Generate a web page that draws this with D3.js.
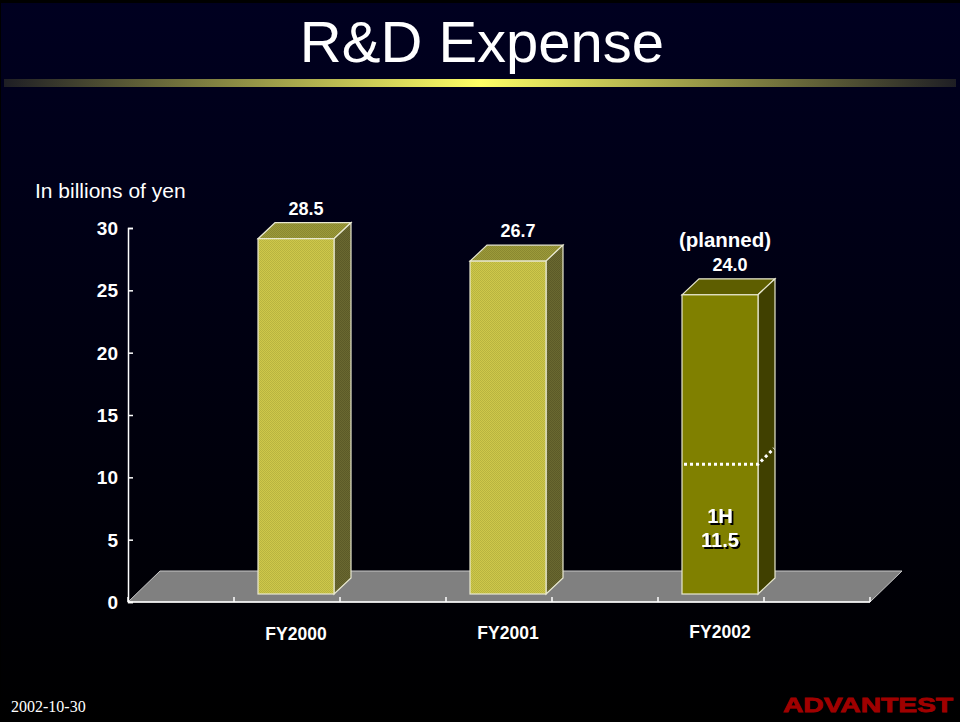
<!DOCTYPE html>
<html>
<head>
<meta charset="utf-8">
<script src="https://cdn.jsdelivr.net/npm/d3@7"></script>
<style>
  html, body { margin: 0; padding: 0; background: #000; }
  svg { display: block; }
</style>
</head>
<body>
<div id="chart"></div>
<script>
// chart values
const categories = ["FY2000", "FY2001", "FY2002"];
const expense = [28.5, 26.7, 24.0];
const valueLabels = ["28.5", "26.7", "24.0"];
const planned = [false, false, true];
const yTicks = [0, 5, 10, 15, 20, 25, 30];
const firstHalf = 11.5;      // 1H figure of FY2002
const firstHalfLine = 10.4;  // level where the slide draws the 1H dotted line

const width = 960, height = 722;
const plotLeft = 128, plotRight = 870, plotTop = 228, plotBottom = 602;
const floorDepth = 31;          // 3D floor offset
const barOffset = 8;            // bar front plane sits this far behind the floor edge
const barDepth = 16;
const barWidth = 76;

const svg = d3.select("#chart").append("svg")
  .attr("width", width)
  .attr("height", height)
  .style("font-family", "'Liberation Sans', Arial, sans-serif");

const defs = svg.append("defs");

const bg = defs.append("linearGradient").attr("id", "bg").attr("x1", 0).attr("y1", 0).attr("x2", 0).attr("y2", 1);
bg.append("stop").attr("offset", "0%").attr("stop-color", "#000020");
bg.append("stop").attr("offset", "100%").attr("stop-color", "#000000");

const rule = defs.append("linearGradient").attr("id", "rule");
rule.append("stop").attr("offset", "0%").attr("stop-color", "#1e1e24");
rule.append("stop").attr("offset", "50%").attr("stop-color", "#ffff66");
rule.append("stop").attr("offset", "100%").attr("stop-color", "#1e1e24");

defs.append("filter").attr("id", "shadow")
  .append("feDropShadow")
  .attr("dx", 2).attr("dy", 2).attr("stdDeviation", 0)
  .attr("flood-color", "#000").attr("flood-opacity", 1);

// stippled fill for the actual-result bars
function stipple(id, a, b) {
  const p = defs.append("pattern").attr("id", id)
    .attr("width", 2).attr("height", 2).attr("patternUnits", "userSpaceOnUse");
  p.append("rect").attr("width", 2).attr("height", 2).attr("fill", a);
  p.append("rect").attr("width", 1).attr("height", 1).attr("fill", b);
  p.append("rect").attr("x", 1).attr("y", 1).attr("width", 1).attr("height", 1).attr("fill", b);
}
stipple("frontPat", "#cfc84a", "#b8b440");
stipple("topPat", "#9c9a3a", "#8a8830");
stipple("sidePat", "#6a6830", "#5c5a28");

svg.append("rect").attr("width", width).attr("height", height).attr("fill", "#000");
svg.append("rect").attr("x", 1).attr("y", 3).attr("width", width - 1).attr("height", height - 3).attr("fill", "url(#bg)");

// title
svg.append("text")
  .attr("x", 482).attr("y", 62)
  .attr("text-anchor", "middle")
  .attr("fill", "#fff")
  .style("font-size", "58px")
  .text("R&D Expense");

svg.append("rect").attr("x", 4).attr("y", 79).attr("width", 952).attr("height", 8).attr("fill", "url(#rule)");

// scales
const x = d3.scaleBand()
  .domain(categories)
  .range([plotLeft + (plotRight - plotLeft) / 14, plotRight - (plotRight - plotLeft) / 14]);

const y = d3.scaleLinear()
  .domain([0, 30])
  .range([plotBottom, plotTop]);

// floor
svg.append("polygon")
  .attr("points", [[plotLeft, plotBottom], [plotRight, plotBottom], [plotRight + floorDepth + 1, plotBottom - floorDepth], [plotLeft + floorDepth + 1, plotBottom - floorDepth]].join(" "))
  .attr("fill", "#808080")
  .attr("stroke", "#c8c8c8")
  .attr("stroke-width", 1);

// axes
const yAxis = svg.append("g")
  .attr("transform", `translate(${plotLeft},0)`)
  .call(d3.axisRight(y).tickValues(yTicks).tickSize(5).tickFormat(""));
yAxis.selectAll("path, line").attr("stroke", "#fff").attr("stroke-width", 1.5);

svg.append("g").selectAll("text")
  .data(yTicks)
  .enter()
  .append("text")
  .attr("x", 118)
  .attr("y", d => y(d) + 7)
  .attr("text-anchor", "end")
  .attr("fill", "#fff")
  .style("font-size", "19px")
  .style("font-weight", "bold")
  .text(d => d);

const halfStep = x.step() / 2;
const xTicks = d3.range(0, categories.length * 2 + 2).map(i => plotLeft + i * halfStep);
svg.append("line")
  .attr("x1", plotLeft).attr("x2", plotRight).attr("y1", plotBottom).attr("y2", plotBottom)
  .attr("stroke", "#fff").attr("stroke-width", 1.5);
svg.append("g").selectAll("line")
  .data(xTicks)
  .enter()
  .append("line")
  .attr("x1", d => d).attr("x2", d => d)
  .attr("y1", plotBottom).attr("y2", plotBottom - 5)
  .attr("stroke", "#fff").attr("stroke-width", 1.5);

svg.append("text")
  .attr("x", 35).attr("y", 198)
  .attr("fill", "#fff")
  .style("font-size", "21px")
  .text("In billions of yen");

// bars
const bars = categories.map((c, i) => {
  const x0 = x(c) + x.bandwidth() / 2 - barWidth / 2 + barOffset + 1;
  return {
    c, i,
    x0, x1: x0 + barWidth,
    yb: y(0) - barOffset,
    yt: y(expense[i]) - barOffset,
    planned: planned[i]
  };
});

const g = svg.append("g").selectAll("g").data(bars).enter().append("g");
const edge = "#e8e8d0";

g.append("polygon")
  .attr("points", d => [[d.x0, d.yt], [d.x1, d.yt], [d.x1 + barDepth + 1, d.yt - barDepth], [d.x0 + barDepth + 1, d.yt - barDepth]].join(" "))
  .attr("fill", d => d.planned ? "#5e5e00" : "url(#topPat)")
  .attr("stroke", edge).attr("stroke-width", 1.2);

g.append("polygon")
  .attr("points", d => [[d.x1, d.yt], [d.x1 + barDepth + 1, d.yt - barDepth], [d.x1 + barDepth + 1, d.yb - barDepth], [d.x1, d.yb]].join(" "))
  .attr("fill", d => d.planned ? "#404000" : "url(#sidePat)")
  .attr("stroke", edge).attr("stroke-width", 1.2);

g.append("rect")
  .attr("x", d => d.x0).attr("y", d => d.yt)
  .attr("width", barWidth).attr("height", d => d.yb - d.yt)
  .attr("fill", d => d.planned ? "#808000" : "url(#frontPat)")
  .attr("stroke", edge).attr("stroke-width", 1.2);

// value labels
g.append("text")
  .attr("x", d => (d.x0 + d.x1) / 2 + 10)
  .attr("y", d => d.yt - barDepth - 8)
  .attr("text-anchor", "middle")
  .attr("fill", "#fff")
  .style("font-size", "18px")
  .style("font-weight", "bold")
  .text(d => valueLabels[d.i]);

g.filter(d => d.planned).append("text")
  .attr("x", d => (d.x0 + d.x1) / 2 + 5)
  .attr("y", d => d.yt - barDepth - 32)
  .attr("text-anchor", "middle")
  .attr("fill", "#fff")
  .style("font-size", "20.5px")
  .style("font-weight", "bold")
  .text("(planned)");

// category labels
svg.append("g").selectAll("text")
  .data(bars)
  .enter()
  .append("text")
  .attr("x", d => (d.x0 + d.x1) / 2)
  .attr("y", d => 640 - d.i)
  .attr("text-anchor", "middle")
  .attr("fill", "#fff")
  .style("font-size", "17.5px")
  .style("font-weight", "bold")
  .text(d => d.c);

// 1H split on the planned bar
const pb = bars.find(d => d.planned);
const ySplit = y(firstHalfLine) - barOffset;
svg.append("polyline")
  .attr("points", [[pb.x0 + 2, ySplit], [pb.x1, ySplit], [pb.x1 + barDepth, ySplit - barDepth]].join(" "))
  .attr("fill", "none")
  .attr("stroke", "#fff")
  .attr("stroke-width", 3)
  .attr("stroke-dasharray", "3,3");

svg.append("text")
  .attr("x", (pb.x0 + pb.x1) / 2)
  .attr("text-anchor", "middle")
  .attr("fill", "#fff")
  .attr("filter", "url(#shadow)")
  .style("font-size", "20px")
  .style("font-weight", "bold")
  .selectAll("tspan")
  .data(["1H", firstHalf.toFixed(1)])
  .enter()
  .append("tspan")
  .attr("x", (pb.x0 + pb.x1) / 2)
  .attr("y", (d, i) => 523 + i * 24)
  .text(d => d);

// footer
svg.append("text")
  .attr("x", 11).attr("y", 712)
  .attr("fill", "#fff")
  .style("font-family", "'Liberation Serif', 'Times New Roman', serif")
  .style("font-size", "16px")
  .text("2002-10-30");

svg.append("text")
  .attr("x", 783).attr("y", 712)
  .attr("fill", "#a00000")
  .attr("stroke", "#a00000")
  .attr("stroke-width", 0.8)
  .attr("textLength", 170)
  .attr("lengthAdjust", "spacingAndGlyphs")
  .style("font-size", "21px")
  .style("font-weight", "900")
  .text("ADVANTEST");
</script>
</body>
</html>
